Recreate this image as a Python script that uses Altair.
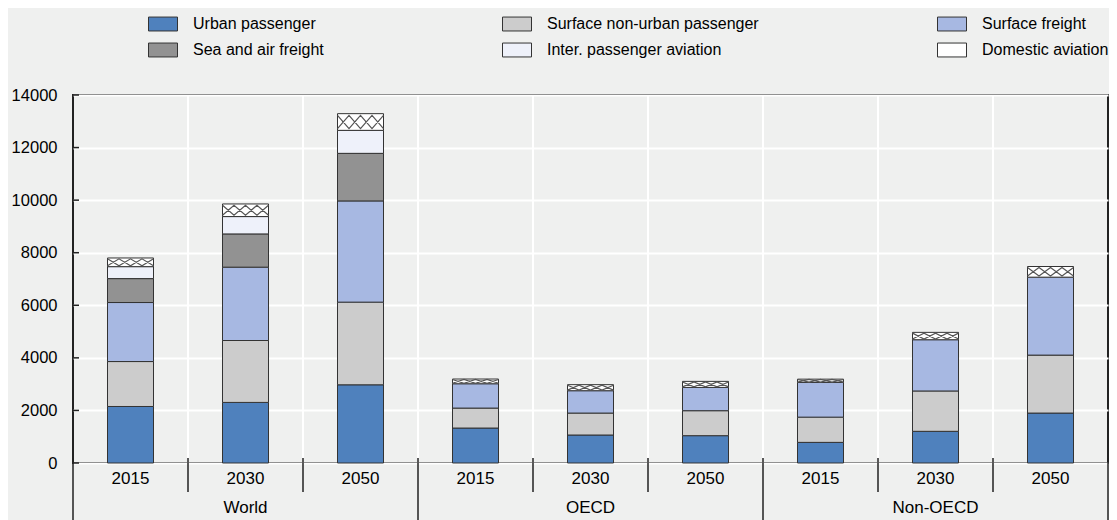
import altair as alt
import pandas as pd

regions = ["World", "OECD", "Non-OECD"]
years = ["2015", "2030", "2050"]
series = ["Urban passenger", "Surface non-urban passenger", "Surface freight",
          "Sea and air freight", "Inter. passenger aviation", "Domestic aviation"]
colors = ["#4F81BD", "#CCCCCC", "#A7B8E2", "#929292", "#EEF1FA", "#FFFFFF"]

# values per bar: World 2015/2030/2050, OECD 2015/2030/2050, Non-OECD 2015/2030/2050
urban = [2150, 2305, 2975, 1330, 1065, 1040, 785, 1205, 1900]
nonurban = [1710, 2355, 3145, 760, 835, 950, 960, 1535, 2205]
freight = [2245, 2790, 3850, 925, 850, 885, 1320, 1950, 2965]
sea_air = [910, 1265, 1810, 0, 0, 0, 0, 0, 0]
inter_av = [455, 660, 875, 0, 0, 0, 0, 0, 0]
domestic = [330, 480, 635, 180, 230, 230, 125, 280, 405]

yticks = [0, 2000, 4000, 6000, 8000, 10000, 12000, 14000]

W, H = 1035, 368
YMAX = 14000
BW = 46
FONT = "Liberation Sans, Arial, Helvetica"
FS = 16.5
LFS = 16
DARK = "#222222"
TXT = "#000000"

keys, key_year, key_region = [], [], []
for r in regions:
    for y in years:
        keys.append(f"{r} {y}")
        key_year.append(y)
        key_region.append(r)

all_vals = [urban, nonurban, freight, sea_air, inter_av, domestic]
rows = []
for i, k in enumerate(keys):
    base = 0
    for s, vals in zip(series, all_vals):
        v = vals[i]
        rows.append(dict(key=k, series=s, start=base, end=base + v, value=v,
                         mid=base + v / 2))
        base += v
df = pd.DataFrame(rows)
bars_df = df[df.value > 0]
dom_df = df[df.series == "Domestic aviation"]

keys_df = pd.DataFrame({"key": keys, "year": key_year, "region": key_region,
                        "idx": list(range(len(keys)))})
reg_df = pd.DataFrame({"key": [f"{r} {years[1]}" for r in regions], "region": regions})
ytick_df = pd.DataFrame({"v": yticks})

xscale = alt.Scale(domain=keys, paddingInner=0, paddingOuter=0)
yscale = alt.Scale(domain=[0, YMAX], nice=False)

def X(band=0.5):
    return alt.X("key:N", scale=xscale, axis=None, bandPosition=band)

# white vertical grid lines
vgrid = alt.Chart(keys_df[keys_df.idx > 0]).mark_rule(color="white", strokeWidth=2).encode(
    x=X(0), y=alt.value(0), y2=alt.value(H))

bars = alt.Chart(bars_df).mark_bar(
    width=alt.RelativeBandSize(0.4), stroke="#333333", strokeWidth=1
).encode(
    x=alt.X("key:N", scale=xscale, axis=None),
    y=alt.Y("start:Q", scale=yscale, title=None,
            axis=alt.Axis(values=yticks, format="d", grid=True, gridColor="white", gridWidth=2,
                          ticks=False, domain=False, labelPadding=16,
                          labelFont=FONT, labelFontSize=FS, labelColor=TXT)),
    y2="end:Q",
    fill=alt.Fill("series:N", scale=alt.Scale(domain=series, range=colors),
                  legend=alt.Legend(title=None, orient="none", legendX=75, legendY=-86,
                                    columns=3, columnPadding=176, rowPadding=2,
                                    direction="horizontal",
                                    labelFont=FONT, labelFontSize=LFS, labelColor=TXT,
                                    labelLimit=400, labelOffset=15,
                                    symbolType="M-1,-0.48H1V0.48H-1Z", symbolSize=841,
                                    symbolStrokeColor="#333333", symbolStrokeWidth=1,
                                    symbolOpacity=1, padding=0)),
)

hatch = alt.Chart(dom_df).transform_calculate(
    h=f"datum.value * {H} / {YMAX} / {BW} * 0.8"
).transform_calculate(
    path="'M-1,' + datum.h + 'L-0.5,' + (-datum.h) + 'L0,' + datum.h + 'L0.5,' + (-datum.h) + 'L1,' + datum.h"
         " + 'M-1,' + (-datum.h) + 'L-0.5,' + datum.h + 'L0,' + (-datum.h) + 'L0.5,' + datum.h + 'L1,' + (-datum.h)"
).mark_point(filled=False, color="#555555", strokeWidth=1.2, opacity=1, size=BW * BW).encode(
    x=alt.X("key:N", scale=xscale, axis=None),
    y=alt.Y("mid:Q", scale=yscale),
    shape=alt.Shape("path:N", scale=None, legend=None),
)

yinner = alt.Chart(ytick_df).mark_rule(color=DARK, strokeWidth=1.5).encode(
    y=alt.Y("v:Q", scale=yscale), x=alt.value(0), x2=alt.value(6))

year_sep = alt.Chart(keys_df[keys_df.idx % 3 != 0]).mark_rule(color=DARK, strokeWidth=1.5).encode(
    x=X(0), y=alt.value(H - 5), y2=alt.value(H + 29))

group_sep = alt.Chart(keys_df[keys_df.idx % 3 == 0]).mark_rule(color=DARK, strokeWidth=1.5).encode(
    x=X(0), y=alt.value(H - 5), y2=alt.value(H + 57))

right_edge = alt.Chart(keys_df[keys_df.idx == len(keys) - 1]).mark_rule(color=DARK, strokeWidth=1.5).encode(
    x=X(1), y=alt.value(H - 5), y2=alt.value(H + 57))

year_txt = alt.Chart(keys_df).mark_text(font=FONT, fontSize=17, color=TXT, baseline="middle").encode(
    x=alt.X("key:N", scale=xscale, axis=None), y=alt.value(H + 16), text="year:N")

reg_txt = alt.Chart(reg_df).mark_text(font=FONT, fontSize=17, color=TXT, baseline="middle").encode(
    x=alt.X("key:N", scale=xscale, axis=None), y=alt.value(H + 45), text="region:N")

chart = alt.layer(
    vgrid, bars, hatch, yinner, year_sep, group_sep, right_edge, year_txt, reg_txt
).properties(
    width=W, height=H,
    autosize=alt.AutoSizeParams(type="none"),
    padding={"left": 65, "top": 87, "right": 1, "bottom": 57},
    background="#EFF0EF",
).configure_view(
    stroke=DARK, strokeWidth=2, fill="#EFF0EF"
)

chart.save("out.html", embed_options={"renderer": "svg", "actions": False})
